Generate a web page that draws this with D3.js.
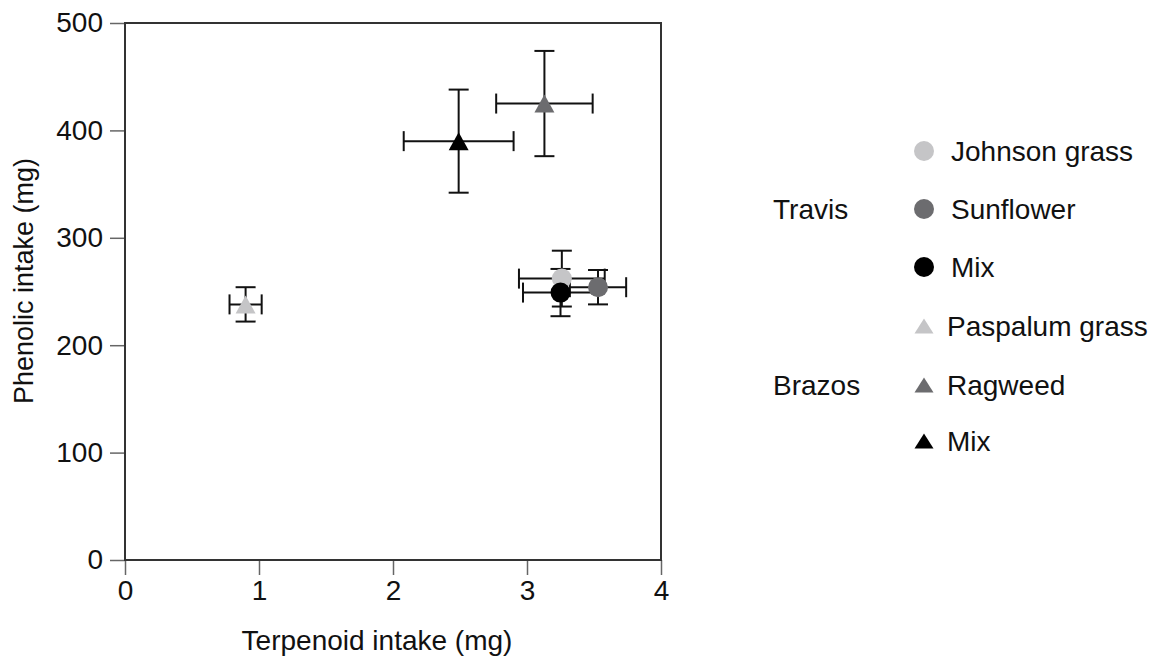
<!DOCTYPE html>
<html>
<head>
<meta charset="utf-8">
<script src="https://cdn.jsdelivr.net/npm/d3@7"></script>
<style>
  html, body { margin: 0; padding: 0; background: #fff; }
  svg { display: block; }
  text { font-family: "Liberation Sans", Arial, Helvetica, sans-serif; fill: #111; }
</style>
</head>
<body>
<svg id="chart" width="1159" height="660"></svg>
<script>
// Diet groups: forage plant and collection site
const plants = ["Johnson grass", "Sunflower", "Mix", "Paspalum grass", "Ragweed", "Mix"];
const sites = ["Travis", "Travis", "Travis", "Brazos", "Brazos", "Brazos"];
// Mean intakes (mg) with error-bar half-widths
const terpenoid = [3.26, 3.53, 3.25, 0.90, 3.13, 2.49];
const terpenoidErr = [0.32, 0.21, 0.28, 0.12, 0.36, 0.41];
const phenolic = [262, 254, 249, 238, 425, 390];
const phenolicErr = [26, 16, 22, 16, 49, 48];
// Axis ticks
const xTicks = [0, 1, 2, 3, 4];
const yTicks = [0, 100, 200, 300, 400, 500];
const siteLabels = ["Travis", "Brazos"];

// Marker styles per group
const markerShape = ["circle", "circle", "circle", "triangle", "triangle", "triangle"];
const markerFill = ["#c5c5c7", "#6c6c6f", "#000000", "#c5c5c7", "#6c6c6f", "#000000"];

const svg = d3.select("#chart");
const plotLeft = 125, plotRight = 661, plotTop = 23, plotBottom = 560;
const fontSize = 28;

const x = d3.scaleLinear().domain([0, 4]).range([plotLeft, plotRight]);
const y = d3.scaleLinear().domain([0, 500]).range([plotBottom, plotTop]);

const rows = plants.map((p, i) => ({
  plant: p, site: sites[i],
  tx: terpenoid[i], txe: terpenoidErr[i],
  ph: phenolic[i], phe: phenolicErr[i],
  shape: markerShape[i], fill: markerFill[i]
}));

// Axes
const xAxis = svg.append("g")
  .attr("transform", `translate(0,${plotBottom})`)
  .call(d3.axisBottom(x).tickValues(xTicks).tickFormat(d3.format("d")).tickSize(15).tickPadding(5));
const yAxis = svg.append("g")
  .attr("transform", `translate(${plotLeft},0)`)
  .call(d3.axisLeft(y).tickValues(yTicks).tickFormat(d3.format("d")).tickSize(15).tickPadding(7));

[xAxis, yAxis].forEach(g => {
  g.select(".domain").remove();
  g.selectAll(".tick line").attr("stroke", "#666").attr("stroke-width", 1.5);
  g.selectAll(".tick text").attr("font-size", fontSize).attr("fill", "#111")
    .style("font-family", '"Liberation Sans", Arial, Helvetica, sans-serif');
});

// Plot frame
svg.append("rect")
  .attr("x", x(0)).attr("y", y(500))
  .attr("width", x(4) - x(0)).attr("height", y(0) - y(500))
  .attr("fill", "none").attr("stroke", "#333").attr("stroke-width", 2);

// Axis titles
svg.append("text")
  .attr("x", 377).attr("y", 650)
  .attr("text-anchor", "middle").attr("font-size", fontSize)
  .text("Terpenoid intake (mg)");
svg.append("text")
  .attr("transform", "translate(33,404) rotate(-90)")
  .attr("text-anchor", "start").attr("font-size", 27)
  .text("Phenolic intake (mg)");

// Triangle path centred on its bounding box
const tri = (w, h) => `M0,${-h / 2}L${w / 2},${h / 2}L${-w / 2},${h / 2}Z`;

const cap = 10;
const bars = svg.append("g").attr("stroke", "#111").attr("stroke-width", 2).attr("fill", "none");
rows.forEach(d => {
  const cx = x(d.tx), cy = y(d.ph);
  const x0 = x(d.tx - d.txe), x1 = x(d.tx + d.txe);
  const y0 = y(d.ph - d.phe), y1 = y(d.ph + d.phe);
  const g = bars.append("g");
  // horizontal bar with end caps
  g.append("line").attr("x1", x0).attr("x2", x1).attr("y1", cy).attr("y2", cy);
  g.append("line").attr("x1", x0).attr("x2", x0).attr("y1", cy - cap).attr("y2", cy + cap);
  g.append("line").attr("x1", x1).attr("x2", x1).attr("y1", cy - cap).attr("y2", cy + cap);
  // vertical bar with end caps
  g.append("line").attr("x1", cx).attr("x2", cx).attr("y1", y0).attr("y2", y1);
  g.append("line").attr("x1", cx - cap).attr("x2", cx + cap).attr("y1", y0).attr("y2", y0);
  g.append("line").attr("x1", cx - cap).attr("x2", cx + cap).attr("y1", y1).attr("y2", y1);
});

// Markers
const marks = svg.append("g");
rows.forEach(d => {
  const cx = x(d.tx), cy = y(d.ph);
  if (d.shape === "circle") {
    marks.append("circle").attr("cx", cx).attr("cy", cy).attr("r", 10).attr("fill", d.fill);
  } else {
    marks.append("path").attr("d", tri(20, 18))
      .attr("transform", `translate(${cx},${cy})`).attr("fill", d.fill);
  }
});

// Legend
const legendY = [151, 209, 267, 326, 385, 441];
const legend = svg.append("g");
rows.forEach((d, i) => {
  const ly = legendY[i];
  if (d.shape === "circle") {
    legend.append("circle").attr("cx", 924).attr("cy", ly).attr("r", 10).attr("fill", d.fill);
  } else {
    legend.append("path").attr("d", tri(19, 15))
      .attr("transform", `translate(924,${ly})`).attr("fill", d.fill);
  }
  legend.append("text")
    .attr("x", d.shape === "circle" ? 951 : 947)
    .attr("y", ly + 10)
    .attr("font-size", fontSize)
    .text(d.plant);
});
siteLabels.forEach(s => {
  const idx = sites.indexOf(s);
  legend.append("text")
    .attr("x", 773).attr("y", legendY[idx + 1] + 10)
    .attr("font-size", fontSize)
    .text(s);
});
</script>
</body>
</html>
